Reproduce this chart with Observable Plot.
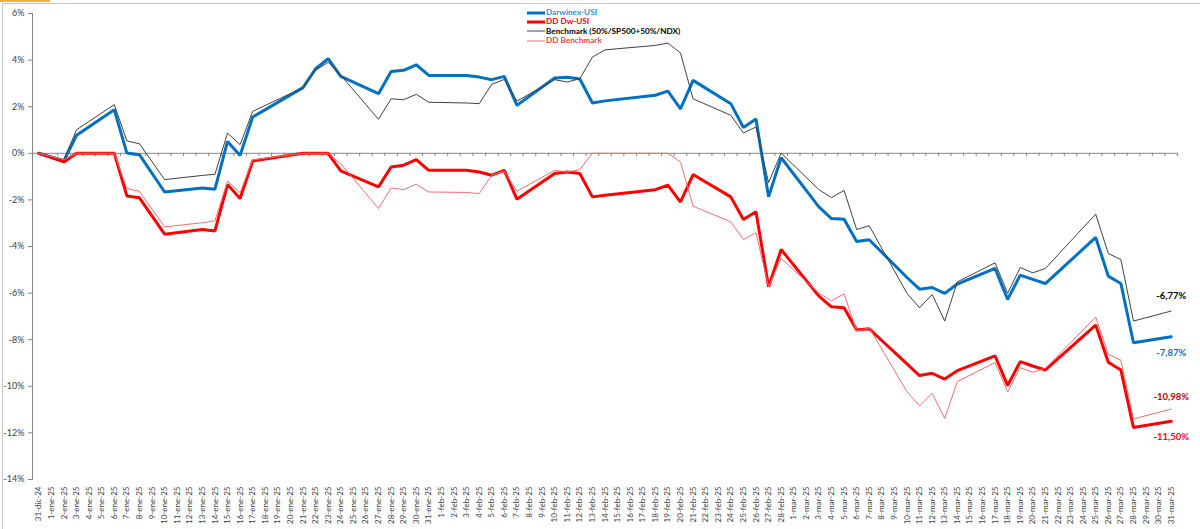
<!DOCTYPE html>
<html>
<head>
<meta charset="utf-8">
<script src="https://cdn.jsdelivr.net/npm/d3@7"></script>
<script src="https://cdn.jsdelivr.net/npm/@observablehq/plot@0.6"></script>
<style>
  body { margin: 0; background: #fff; }
  #wrap { position: relative; width: 1200px; height: 529px; overflow: hidden; font-family: Lato, "Liberation Sans", sans-serif; }
  #wrap > svg { position: absolute; left: 0; top: 0; }
  .frameTop { position: absolute; left: 2px; top: 3px; width: 1198px; height: 0; border-top: 1px solid #c6c6c6; }
  .frameLeft { position: absolute; left: 2px; top: 3px; width: 0; height: 526px; border-left: 1px solid #c6c6c6; }
  .orange { position: absolute; left: 0; top: 0; width: 50px; height: 2px; background: #f4b142; }
  #legend { position: absolute; left: 527px; top: 8px; font-size: 8.2px; font-weight: bold; line-height: 9.4px; }
  #legend .row { display: flex; align-items: center; height: 9.4px; white-space: nowrap; }
  #legend .sw { display: block; width: 18px; height: 6px; margin-right: 1px; flex: none; }
</style>
</head>
<body>
<div id="wrap">
  <div class="orange"></div>
  <div class="frameTop"></div>
  <div class="frameLeft"></div>
</div>
<script>
// ---- categories (every calendar day on the axis) ----
const decDays = ["31-dic-24"];
const eneDays = d3.range(1, 32).map(d => `${d}-ene-25`);
const febDays = d3.range(1, 29).map(d => `${d}-feb-25`);
const marDays = d3.range(1, 32).map(d => `${d}-mar-25`);
const axisDays = [...decDays, ...eneDays, ...febDays, ...marDays];

// ---- trading days with data ----
const tradingDays = [
  "31-dic-24",
  "2-ene-25","3-ene-25","6-ene-25","7-ene-25","8-ene-25","10-ene-25","13-ene-25","14-ene-25","15-ene-25","16-ene-25",
  "17-ene-25","21-ene-25","22-ene-25","23-ene-25","24-ene-25","27-ene-25","28-ene-25","29-ene-25","30-ene-25","31-ene-25",
  "3-feb-25","4-feb-25","5-feb-25","6-feb-25","7-feb-25","10-feb-25","11-feb-25","12-feb-25","13-feb-25","14-feb-25",
  "18-feb-25","19-feb-25","20-feb-25","21-feb-25","24-feb-25","25-feb-25","26-feb-25","27-feb-25","28-feb-25",
  "3-mar-25","4-mar-25","5-mar-25","6-mar-25","7-mar-25","10-mar-25","11-mar-25","12-mar-25","13-mar-25","14-mar-25",
  "17-mar-25","18-mar-25","19-mar-25","20-mar-25","21-mar-25","25-mar-25","26-mar-25","27-mar-25","28-mar-25","31-mar-25"
];

// ---- series values (%) ----
const darwinexUSI = [
  0,
  -0.32, 0.77, 1.87, 0.01, -0.06, -1.66, -1.49, -1.54, 0.51, -0.09,
  1.56, 2.82, 3.63, 4.06, 3.30, 2.56, 3.51, 3.56, 3.80, 3.34,
  3.34, 3.27, 3.16, 3.30, 2.06, 3.23, 3.26, 3.19, 2.16, 2.25,
  2.49, 2.67, 1.91, 3.13, 2.13, 1.11, 1.47, -1.87, -0.19,
  -2.30, -2.80, -2.83, -3.79, -3.71, -5.33, -5.83, -5.76, -6.01, -5.61,
  -4.94, -6.27, -5.23, -5.41, -5.59, -3.61, -5.27, -5.59, -8.13, -7.87
];
const ddDwUSI = [
  0,
  -0.37, 0, 0, -1.83, -1.91, -3.47, -3.27, -3.33, -1.34, -1.94,
  -0.33, 0, 0, 0, -0.75, -1.44, -0.59, -0.51, -0.27, -0.73,
  -0.73, -0.80, -0.94, -0.73, -1.97, -0.87, -0.80, -0.87, -1.87, -1.80,
  -1.56, -1.37, -2.09, -0.91, -1.87, -2.84, -2.51, -5.73, -4.13,
  -6.13, -6.59, -6.63, -7.58, -7.53, -9.04, -9.54, -9.44, -9.69, -9.33,
  -8.69, -9.97, -8.94, -9.13, -9.30, -7.37, -8.97, -9.30, -11.77, -11.50
];
const benchmark = [
  0,
  -0.27, 1.01, 2.09, 0.53, 0.41, -1.13, -0.95, -0.90, 0.87, 0.37,
  1.80, 2.82, 3.56, 3.91, 3.35, 1.46, 2.34, 2.30, 2.53, 2.19,
  2.16, 2.13, 2.96, 3.17, 2.24, 3.16, 3.06, 3.20, 4.13, 4.44,
  4.63, 4.73, 4.31, 2.34, 1.63, 0.87, 1.13, -1.26, 0.01,
  -1.56, -1.90, -1.59, -3.27, -3.11, -6.01, -6.63, -6.06, -7.20, -5.52,
  -4.70, -6.01, -4.90, -5.13, -4.94, -2.61, -4.30, -4.56, -7.20, -6.77
];
const ddBenchmark = [
  0,
  -0.27, 0, 0, -1.51, -1.63, -3.16, -2.98, -2.90, -1.19, -1.69,
  -0.28, 0, 0, 0, -0.45, -2.37, -1.49, -1.56, -1.33, -1.66,
  -1.68, -1.73, -0.94, -0.76, -1.63, -0.73, -0.80, -0.70, 0, 0,
  0, 0, -0.37, -2.27, -2.94, -3.70, -3.41, -5.73, -4.51,
  -6.00, -6.33, -6.03, -7.63, -7.49, -10.23, -10.84, -10.30, -11.38, -9.80,
  -8.98, -10.24, -9.20, -9.40, -9.23, -7.03, -8.62, -8.88, -11.40, -10.98
];

const yTicks = [6, 4, 2, 0, -2, -4, -6, -8, -10, -12, -14];

const seriesNames = ["Darwinex-USI", "DD Dw-USI", "Benchmark (50%/SP500+50%/NDX)", "DD Benchmark"];
const seriesValues = [darwinexUSI, ddDwUSI, benchmark, ddBenchmark];
const seriesColors = ["#0070C0", "#FF0000", "#404040", "#EE7070"];
const legendTextColors = ["#2E8FDA", "#FF0000", "#000000", "#E04848"];
const seriesWidths = [3, 3, 1, 1];
const endLabelColors = ["#0070C0", "#FF0000", "#000000", "#C00000"];
const endLabelDy = [16, 16, -15, -12];

const series = seriesNames.map((name, k) => ({
  name,
  rows: tradingDays.map((day, i) => ({ day, v: seriesValues[k][i] })),
  color: seriesColors[k],
  width: seriesWidths[k]
}));

const W = 1200, H = 529;
const mL = 32, mR = 23, mT = 13, mB = 50;
const step = (W - mL - mR) / axisDays.length;

const lastDay = tradingDays[tradingDays.length - 1];
const endRows = series.map((s, k) => ({ day: lastDay, v: s.rows[s.rows.length - 1].v, k }));

const chart = Plot.plot({
  width: W,
  height: H,
  marginLeft: mL,
  marginRight: mR,
  marginTop: mT,
  marginBottom: mB,
  style: { fontFamily: 'Lato, "Liberation Sans", sans-serif', fontSize: "9px", color: "#404040", background: "transparent" },
  x: { type: "point", domain: axisDays, padding: 0.5, label: null },
  y: { domain: [-14, 6], nice: false, label: null },
  marks: [
    Plot.frame({ anchor: "left", stroke: "#868686" }),
    Plot.ruleY([0], { stroke: "#868686", strokeWidth: 1 }),
    Plot.ruleX(axisDays, { x: d => d, dx: -step / 2, y1: 0, y2: -0.14, stroke: "#868686" }),
    Plot.ruleX([axisDays[axisDays.length - 1]], { x: d => d, dx: step / 2, y1: 0, y2: -0.14, stroke: "#868686" }),
    Plot.axisY({ ticks: yTicks, tickFormat: d => d + "%", tickSize: 4, tickPadding: 4, stroke: "#868686", fill: "#404040", fontSize: 9 }),
    Plot.axisX({ anchor: "bottom", tickSize: 0, tickRotate: -90, tickPadding: 7, fill: "#404040", fontSize: 8 }),
    ...series.map(s => Plot.line(s.rows, { x: "day", y: "v", stroke: s.color, strokeWidth: s.width, strokeLinejoin: "miter", curve: "linear" })),
    ...endRows.map(r => Plot.text([r], {
      x: "day", y: "v",
      text: d => d.v.toFixed(2).replace(".", ",") + "%",
      fill: endLabelColors[r.k],
      dy: endLabelDy[r.k],
      fontWeight: "bold",
      fontSize: 9.5
    }))
  ]
});

const wrap = document.getElementById("wrap");
wrap.appendChild(chart);

// legend inside the plot area
const legend = document.createElement("div");
legend.id = "legend";
seriesNames.forEach((name, k) => {
  const row = document.createElement("div");
  row.className = "row";
  row.innerHTML = `<svg class="sw" width="18" height="6"><line x1="0" x2="18" y1="3" y2="3" stroke="${seriesColors[k]}" stroke-width="${seriesWidths[k]}"/></svg><span style="color:${legendTextColors[k]}">${name}</span>`;
  legend.appendChild(row);
});
wrap.appendChild(legend);
</script>
</body>
</html>
